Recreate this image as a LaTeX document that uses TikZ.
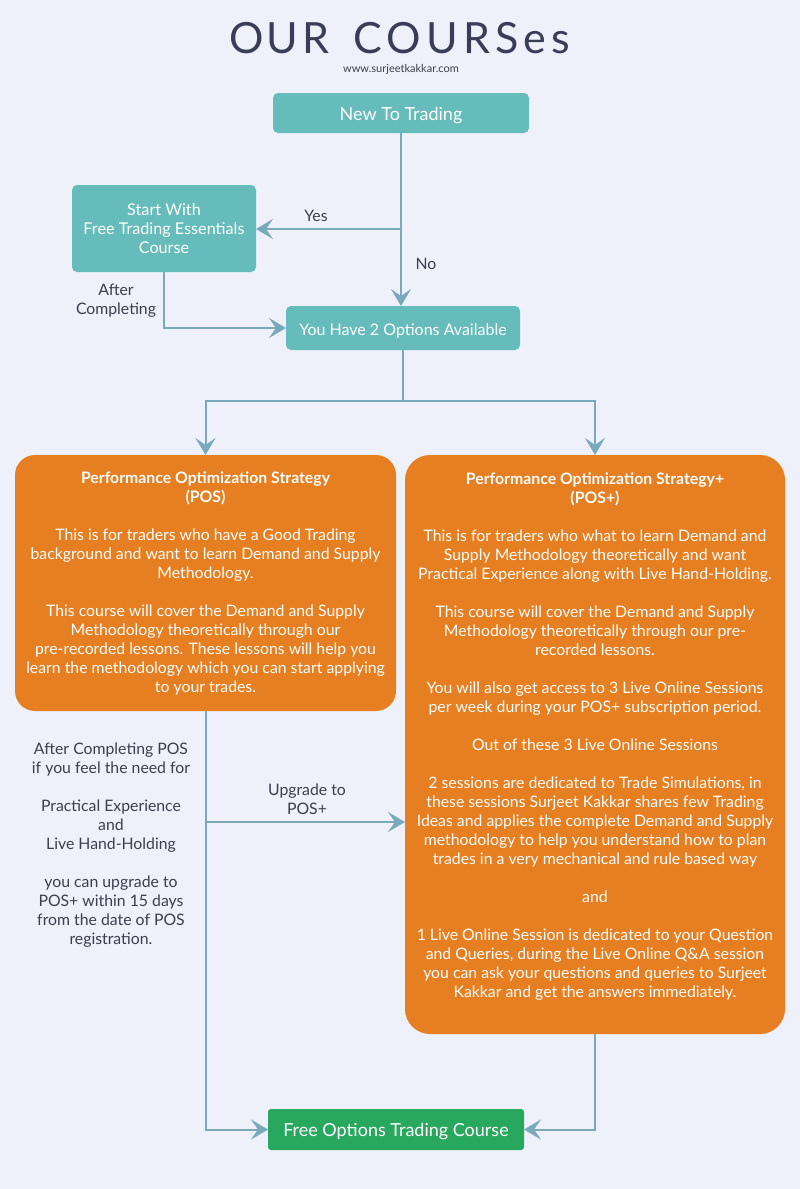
\documentclass[tikz,border=0pt]{standalone}
\usepackage{fontspec}
\setmainfont{Lato}
\newfontfamily\titlefont{Lato}[LetterSpace=8]
\newfontfamily\titlefontb{Lato}[LetterSpace=12]
\usetikzlibrary{arrows.meta}
\definecolor{bg}{HTML}{EEF1FA}
\definecolor{teal}{HTML}{66BCBA}
\definecolor{orng}{HTML}{E67F22}
\definecolor{grn}{HTML}{27A85E}
\definecolor{conn}{HTML}{7AA9BB}
\definecolor{ink}{HTML}{3A3D58}
\definecolor{lbl}{HTML}{3B3F4E}
\tikzset{
  tealbox/.style={draw=none,fill=teal,rounded corners=5pt,text=white,align=center,inner sep=0pt,outer sep=0pt,font=\fontsize{16}{19}\selectfont},
  orbox/.style={draw=none,fill=orng,text=white,align=center,inner sep=0pt,outer sep=0pt,font=\fontsize{15.8}{19}\selectfont},
  grnbox/.style={draw=none,fill=grn,rounded corners=3pt,text=white,align=center,inner sep=0pt,outer sep=0pt,font=\fontsize{18}{19}\selectfont},
  lab/.style={text=lbl,align=center,inner sep=0pt,font=\fontsize{15.8}{19}\selectfont},
  titletext/.style={text=ink,inner sep=0pt,font=\titlefont\fontsize{43}{45}\selectfont},
  conline/.style={draw=conn,line width=2pt},
  arr/.style={conline,-{Stealth[length=17pt,width=20pt,inset=7pt]}},
}
\newcommand{\lowr}[1]{\raisebox{-7pt}[0pt][0pt]{#1}}
\begin{document}
\begin{tikzpicture}[x=1pt,y=-1pt]
\fill[bg] (0,0) rectangle (800,1189);
\useasboundingbox (0,0) rectangle (800,1189);

\node[titletext] (title1) at (279,38) {OUR};
\node[titletext,font=\titlefontb\fontsize{43}{45}\selectfont] (title2) at (462,38) {COURSes};
\node[text=lbl,inner sep=0pt,font=\fontsize{11}{12}\selectfont] (web) at (401,69) {www.surjeetkakkar.com};

\node[tealbox,minimum width=256pt,minimum height=40pt,font=\fontsize{18}{19}\selectfont] (new) at (401,113) {\lowr{New To Trading}};
\node[tealbox,minimum width=184pt,minimum height=87pt,font=\fontsize{16.2}{19}\selectfont] (start) at (164,228.5) {Start With\\Free Trading Essentials\\Course};
\node[tealbox,minimum width=234pt,minimum height=44pt,font=\fontsize{16}{19}\selectfont] (opts) at (403,328) {\lowr{You Have 2 Options Available}};

\node[orbox,rounded corners=20pt,minimum width=381pt,minimum height=256pt] (pos) at (205.5,583) {%
\textbf{Performance Optimization Strategy}\\\textbf{(POS)}\\[19pt]
This is for traders who have a Good Trading\\
background and want to learn Demand and Supply\\
Methodology.\\[19pt]
This course will cover the Demand and Supply\\
Methodology theoretically through our\\
pre-recorded lessons. These lessons will help you\\
learn the methodology which you can start applying\\
to your trades.};

\node[orbox,rounded corners=25pt,minimum width=380pt,minimum height=579pt] (posp) at (595,744.5) {};
\node[orbox,fill=none] (posptext) at (595,737) {%
\textbf{Performance Optimization Strategy+}\\\textbf{(POS+)}\\[19pt]
This is for traders who what to learn Demand and\\
Supply Methodology theoretically and want\\
Practical Experience along with Live Hand-Holding.\\[19pt]
This course will cover the Demand and Supply\\
Methodology theoretically through our pre-\\
recorded lessons.\\[19pt]
You will also get access to 3 Live Online Sessions\\
per week during your POS+ subscription period.\\[19pt]
Out of these 3 Live Online Sessions\\[19pt]
2 sessions are dedicated to Trade Simulations, in\\
these sessions Surjeet Kakkar shares few Trading\\
Ideas and applies the complete Demand and Supply\\
methodology to help you understand how to plan\\
trades in a very mechanical and rule based way\\[19pt]
and\\[19pt]
1 Live Online Session is dedicated to your Question\\
and Queries, during the Live Online Q\&A session\\
you can ask your questions and queries to Surjeet\\
Kakkar and get the answers immediately.};

\node[grnbox,minimum width=256pt,minimum height=41pt] (free) at (396,1129.5) {\lowr{Free Options Trading Course}};

% labels
\node[lab] (yes) at (316,216) {Yes};
\node[lab] (no) at (426,264) {No};
\node[lab] (after) at (116,300.5) {After\\Completing};
\node[lab] (upg) at (307,799.5) {Upgrade to\\POS+};
\node[lab] (note) at (111,845) {After Completing POS\\if you feel the need for\\[19pt]
Practical Experience\\and\\Live Hand-Holding\\[19pt]
you can upgrade to\\POS+ within 15 days\\from the date of POS\\registration.};

% connectors
\coordinate (ybranch) at (402,229);
\draw[arr] (new.south) -- (new.south |- opts.north);
\draw[arr] (ybranch) -- (start.east |- ybranch);
\draw[arr] (start.south) |- (opts.west);
\coordinate (split) at (403,401);
\draw[conline] (opts.south) -- (split);
\draw[arr] (split) -| (pos.north);
\draw[arr] (split) -| (posp.north);
\draw[arr] (pos.south) |- (free.west);
\coordinate (ubranch) at (205.5,822);
\draw[arr] (ubranch) -- (posp.west |- ubranch);
\draw[arr] (posp.south) |- (free.east);
\end{tikzpicture}
\end{document}
